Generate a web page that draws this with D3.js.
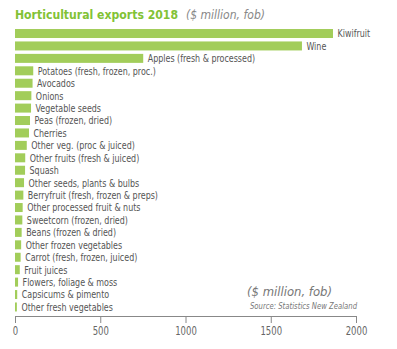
<!DOCTYPE html>
<html><head><meta charset="utf-8">
<script src="https://cdn.jsdelivr.net/npm/d3@7"></script>
<style>
body{margin:0;background:#fff;}
text{font-family:"Liberation Sans Narrow","DejaVu Sans Condensed",sans-serif;}
</style></head>
<body>
<svg id="chart" width="397" height="349"></svg>
<script>
const categories = ["Kiwifruit","Wine","Apples (fresh & processed)","Potatoes (fresh, frozen, proc.)","Avocados","Onions","Vegetable seeds","Peas (frozen, dried)","Cherries","Other veg. (proc & juiced)","Other fruits (fresh & juiced)","Squash","Other seeds, plants & bulbs","Berryfruit (fresh, frozen & preps)","Other processed fruit & nuts","Sweetcorn (frozen, dried)","Beans (frozen & dried)","Other frozen vegetables","Carrot (fresh, frozen, juiced)","Fruit juices","Flowers, foliage & moss","Capsicums & pimento","Other fresh vegetables"];
const values = [1865,1683,752,107,103,96,94,88,82,69,60,59,53,49,45,43,39,36,33,28,18,13,11];
const tickValues = [0,500,1000,1500,2000];

const svg = d3.select("#chart");
const x = d3.scaleLinear().domain([0,2000]).range([15,356]);
const pi = 0.276;
const y = d3.scaleBand().domain(categories).range([27.3, 27.3+23*12.43]).paddingInner(pi).paddingOuter(pi/2);

function squeeze(sel, f){
  sel.each(function(){
    const w = this.getComputedTextLength();
    d3.select(this).attr("textLength", w*f).attr("lengthAdjust","spacingAndGlyphs");
  });
}

const barColor = "#a2cd5a";
svg.append("g").selectAll("rect").data(categories).join("rect")
  .attr("x", x(0)).attr("y", d=>y(d))
  .attr("width", (d,i)=>x(values[i])-x(0))
  .attr("height", y.bandwidth())
  .attr("fill", barColor);

const labels = svg.append("g").selectAll("text").data(categories).join("text")
  .attr("x", (d,i)=>x(values[i])+4.5)
  .attr("y", d=>y(d)+y.bandwidth()/2)
  .attr("dy","0.36em")
  .attr("font-size", 10.8)
  .attr("fill","#555")
  .text(d=>d);
squeeze(labels, 0.82);

// Title
svg.append("text").attr("x",15).attr("y",18.5)
  .attr("font-weight","bold").attr("font-size",13).attr("fill","#82c235")
  .attr("font-family","'DejaVu Sans Condensed','Liberation Sans Narrow',sans-serif")
  .attr("textLength",163).attr("lengthAdjust","spacingAndGlyphs")
  .text("Horticultural exports 2018");
svg.append("text").attr("x",186).attr("y",18.5).attr("font-size",11.5).attr("font-style","italic")
  .attr("fill","#888").attr("font-family","'DejaVu Sans Condensed','Liberation Sans',sans-serif")
  .attr("textLength",79).attr("lengthAdjust","spacingAndGlyphs")
  .text("($ million, fob)");

// Axis
const axis = d3.axisBottom(x).tickValues(tickValues).tickSize(7).tickPadding(4).tickFormat(d3.format("d"));
const gA = svg.append("g").attr("transform","translate(0,316)").call(axis);
gA.select(".domain").attr("stroke","#888");
gA.selectAll(".tick line").attr("stroke","#888");
const tl = gA.selectAll(".tick text").attr("fill","#666").attr("font-size",11.5)
  .attr("font-family","'Liberation Sans Narrow','DejaVu Sans Condensed',sans-serif");
squeeze(tl, 0.82);

// Annotations
svg.append("text").attr("x",247).attr("y",296).attr("font-size",12).attr("font-style","italic")
  .attr("fill","#777").attr("font-family","'DejaVu Sans','Liberation Sans',sans-serif")
  .attr("textLength",85).attr("lengthAdjust","spacingAndGlyphs")
  .text("($ million, fob)");
svg.append("text").attr("x",250).attr("y",309).attr("font-size",8.5).attr("font-style","italic")
  .attr("fill","#777").attr("font-family","'Liberation Sans Narrow',sans-serif")
  .attr("textLength",107).attr("lengthAdjust","spacingAndGlyphs")
  .text("Source: Statistics New Zealand");
</script>
</body></html>
